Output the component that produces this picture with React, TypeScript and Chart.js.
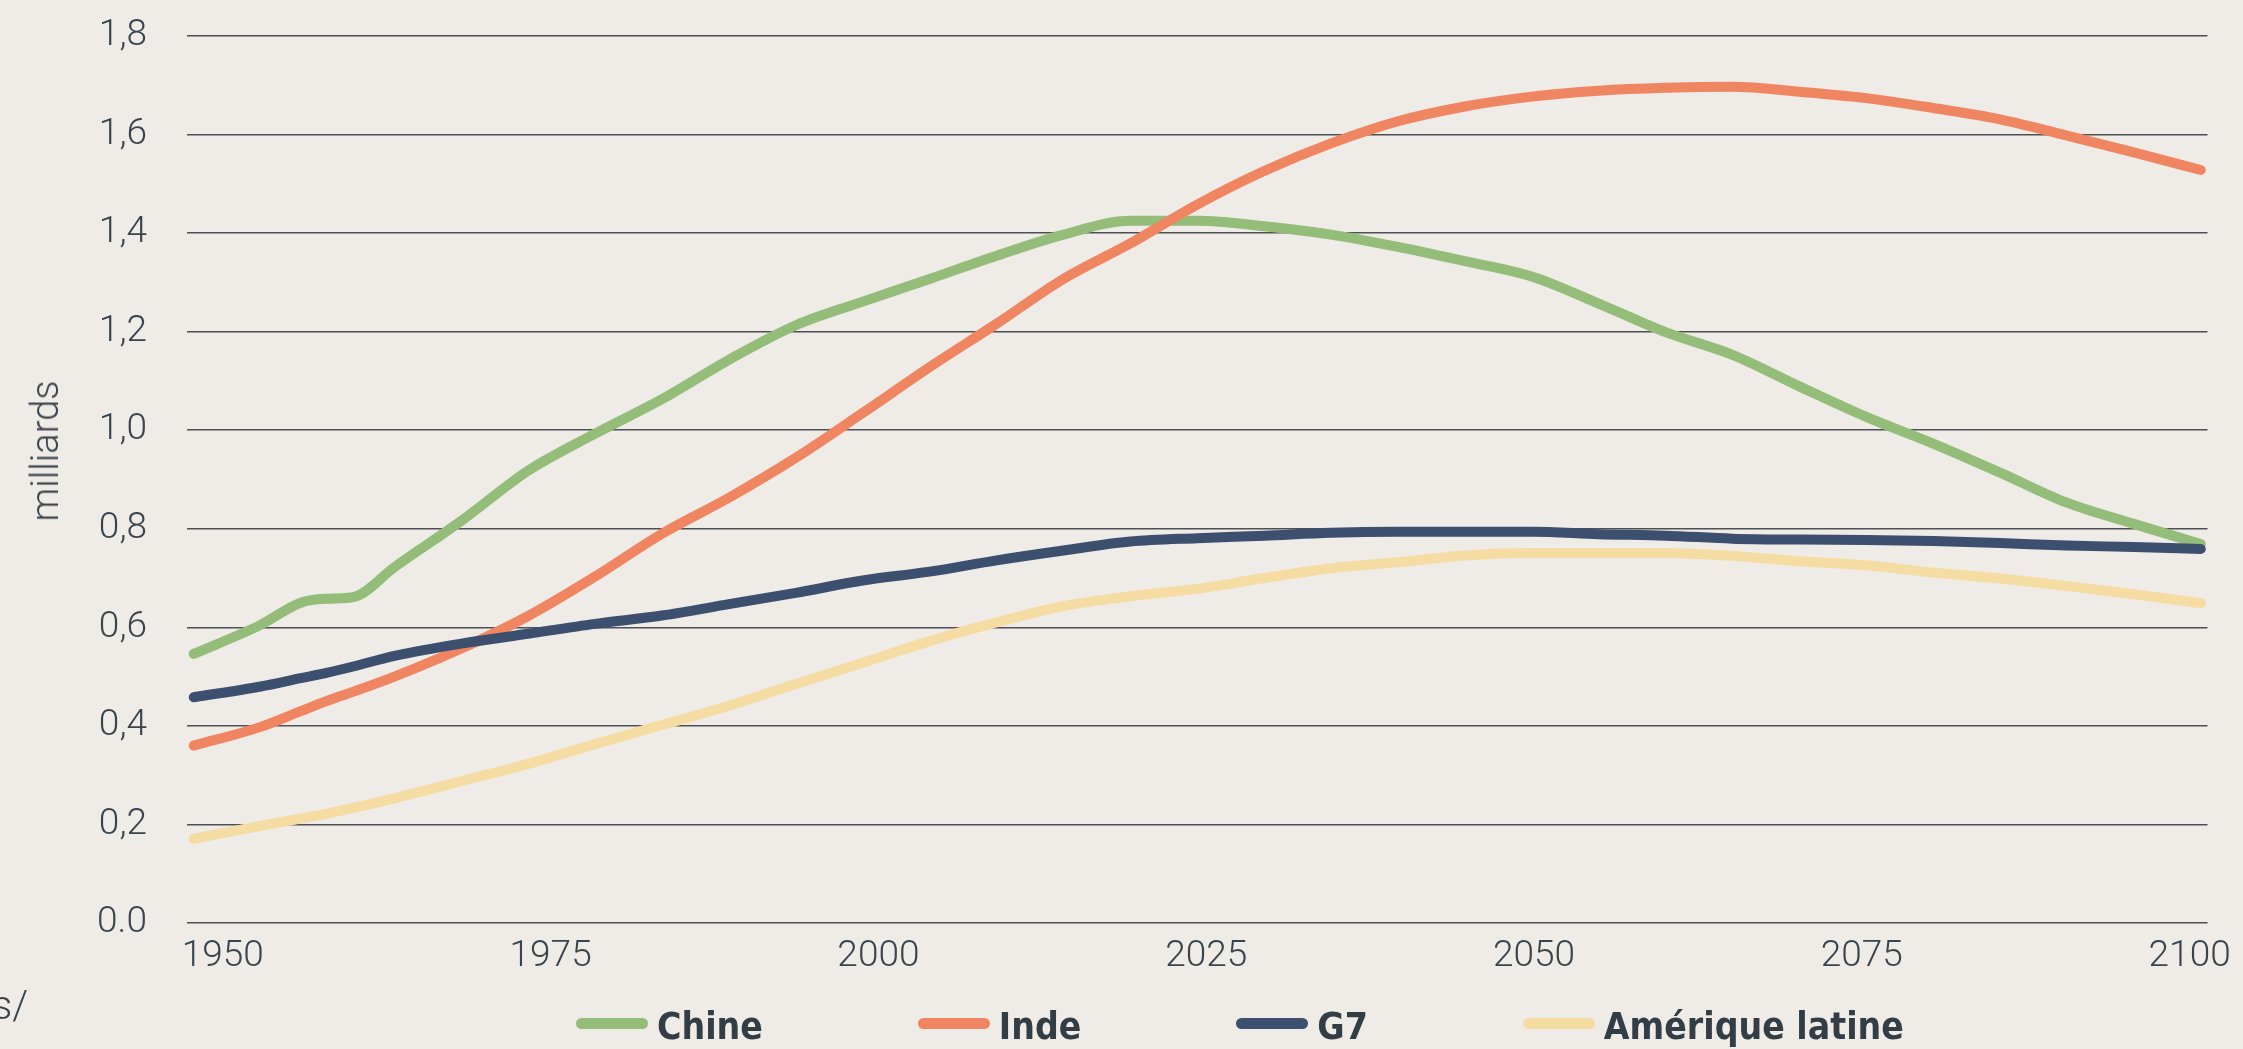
import React, { useEffect, useRef } from "react";
import { Chart, registerables } from "chart.js";

Chart.register(...registerables);

// ---- Data (billions) ----
const years = [
  1950, 1955, 1958, 1960, 1962, 1965, 1970, 1975, 1980, 1985, 1990, 1995, 2000, 2005, 2010, 2015,
  2020, 2025, 2030, 2035, 2040, 2045, 2050, 2055, 2060, 2065, 2070, 2075, 2080, 2085, 2090, 2095, 2100,
];
const chine = [
  0.546, 0.605, 0.65, 0.658, 0.662, 0.722, 0.816, 0.918, 0.993, 1.063, 1.143, 1.213, 1.261, 1.307, 1.354, 1.397,
  1.425, 1.425, 1.414, 1.397, 1.372, 1.343, 1.312, 1.257, 1.199, 1.153, 1.089, 1.027, 0.973, 0.914, 0.853, 0.81, 0.769,
];
const inde = [
  0.36, 0.398, 0.43, 0.451, 0.47, 0.5, 0.557, 0.623, 0.703, 0.79, 0.863, 0.944, 1.035, 1.128, 1.216, 1.307,
  1.379, 1.458, 1.526, 1.582, 1.627, 1.657, 1.677, 1.689, 1.695, 1.697, 1.687, 1.674, 1.654, 1.631, 1.598, 1.564, 1.528,
];
const g7 = [
  0.458, 0.48, 0.497, 0.508, 0.521, 0.542, 0.567, 0.587, 0.607, 0.624, 0.647, 0.67, 0.695, 0.713, 0.736, 0.756,
  0.774, 0.781, 0.786, 0.792, 0.794, 0.794, 0.794, 0.789, 0.786, 0.78, 0.778, 0.777, 0.775, 0.771, 0.766, 0.763, 0.759,
];
const ameriqueLatine = [
  0.171, 0.197, 0.212, 0.222, 0.234, 0.253, 0.288, 0.323, 0.363, 0.402, 0.441, 0.485, 0.528, 0.572, 0.61, 0.643,
  0.663, 0.678, 0.7, 0.72, 0.732, 0.746, 0.751, 0.751, 0.751, 0.745, 0.734, 0.726, 0.711, 0.699, 0.684, 0.667, 0.649,
];

const seriesLabels = ["Chine", "Inde", "G7", "Amérique latine"];
const seriesValues = [chine, inde, g7, ameriqueLatine];
const seriesColors = ["#93bd79", "#f08562", "#3c4f6e", "#f5dca3"];
const seriesOrder = [4, 3, 2, 1];

const xTickYears = [1950, 1975, 2000, 2025, 2050, 2075, 2100];
const yTickValues = [0, 0.2, 0.4, 0.6, 0.8, 1.0, 1.2, 1.4, 1.6, 1.8];
const yTickLabels = ["0.0", "0,2", "0,4", "0,6", "0,8", "1,0", "1,2", "1,4", "1,6", "1,8"];
const yAxisTitle = "milliards";
const sourceFragment = "s/";

const BG = "#efebe7";
const TEXT = "#3a444c";
const W = 2243;
const H = 1049;

export default function App() {
  const canvasRef = useRef<HTMLCanvasElement | null>(null);

  useEffect(() => {
    document.body.style.margin = "0";
    document.body.style.background = BG;
    const canvas = canvasRef.current;
    if (!canvas) return;
    const tickFont = { family: "Roboto", weight: "300" as any, size: 37 };
    const chart = new Chart(canvas, {
      type: "line",
      data: {
        datasets: seriesLabels.map((label, i) => ({
          label,
          data: years.map((y, j) => ({ x: y, y: seriesValues[i][j] })),
          borderColor: seriesColors[i],
          backgroundColor: seriesColors[i],
          borderWidth: 10,
          borderCapStyle: "round" as const,
          borderJoinStyle: "round" as const,
          pointRadius: 0,
          cubicInterpolationMode: "monotone" as const,
          order: seriesOrder[i],
        })),
      },
      options: {
        animation: false,
        responsive: false,
        devicePixelRatio: 1,
        layout: { padding: { top: 36, right: 23, bottom: 0, left: 0 } },
        plugins: {
          legend: { display: false },
          tooltip: { enabled: false },
        },
        scales: {
          x: {
            type: "linear",
            display: false,
            min: 1949.5,
            max: 2100.5,
          },
          xl: {
            type: "linear",
            position: "bottom",
            min: 1947.27,
            max: 2101.36,
            afterBuildTicks: (axis: any) => {
              axis.ticks = xTickYears.map((v) => ({ value: v }));
            },
            afterFit: (axis: any) => {
              axis.height = 126;
            },
            grid: { display: false, drawTicks: false },
            border: { display: false },
            ticks: {
              color: TEXT,
              font: tickFont,
              padding: 12,
              maxRotation: 0,
              autoSkip: false,
              callback: (v: any) => String(v),
            },
          },
          y: {
            type: "linear",
            min: 0,
            max: 1.8,
            afterBuildTicks: (axis: any) => {
              axis.ticks = yTickValues.map((v) => ({ value: v }));
            },
            afterFit: (axis: any) => {
              axis.width = 187;
            },
            grid: {
              color: "#4d5054",
              lineWidth: 1.5,
              drawTicks: true,
              tickLength: 40,
              tickColor: "rgba(0,0,0,0)",
            },
            border: { display: false },
            ticks: {
              color: TEXT,
              font: tickFont,
              padding: 0,
              callback: (_v: any, i: number) => yTickLabels[i],
            },
          },
        },
      },
    });
    return () => chart.destroy();
  }, []);

  return (
    <div style={{ position: "fixed", left: 0, top: 0, width: W, height: H, background: BG, overflow: "hidden" }}>
      <canvas ref={canvasRef} width={W} height={H} style={{ width: W, height: H, display: "block" }} />
      <div
        style={{
          position: "absolute",
          left: 45,
          top: 451,
          transform: "translate(-50%, -50%) rotate(-90deg)",
          fontFamily: "Roboto",
          fontWeight: 300,
          fontSize: 38,
          lineHeight: 1,
          color: TEXT,
          whiteSpace: "nowrap",
        }}
      >
        {yAxisTitle}
      </div>
      <div
        style={{
          position: "absolute",
          left: -8,
          top: 982,
          fontFamily: "Roboto",
          fontWeight: 300,
          fontSize: 40,
          color: TEXT,
          lineHeight: 1.2,
        }}
      >
        {sourceFragment}
      </div>
      <div
        style={{
          position: "absolute",
          left: 576,
          top: 1008,
          display: "flex",
          alignItems: "center",
        }}
      >
        {seriesLabels.map((label, i) => (
          <div
            key={label}
            style={{ display: "flex", alignItems: "center", marginRight: i < seriesLabels.length - 1 ? 155 : 0 }}
          >
            <div
              style={{
                width: 72,
                height: 11,
                borderRadius: 6,
                background: seriesColors[i],
                marginRight: 9,
                position: "relative",
                top: -3,
              }}
            />
            <span
              style={{
                fontFamily: "'DejaVu Sans Condensed', 'DejaVu Sans', sans-serif",
                fontStretch: "condensed",
                fontWeight: 700,
                fontSize: 37,
                lineHeight: 1,
                color: "#333d45",
                whiteSpace: "nowrap",
              }}
            >
              {label}
            </span>
          </div>
        ))}
      </div>
    </div>
  );
}
